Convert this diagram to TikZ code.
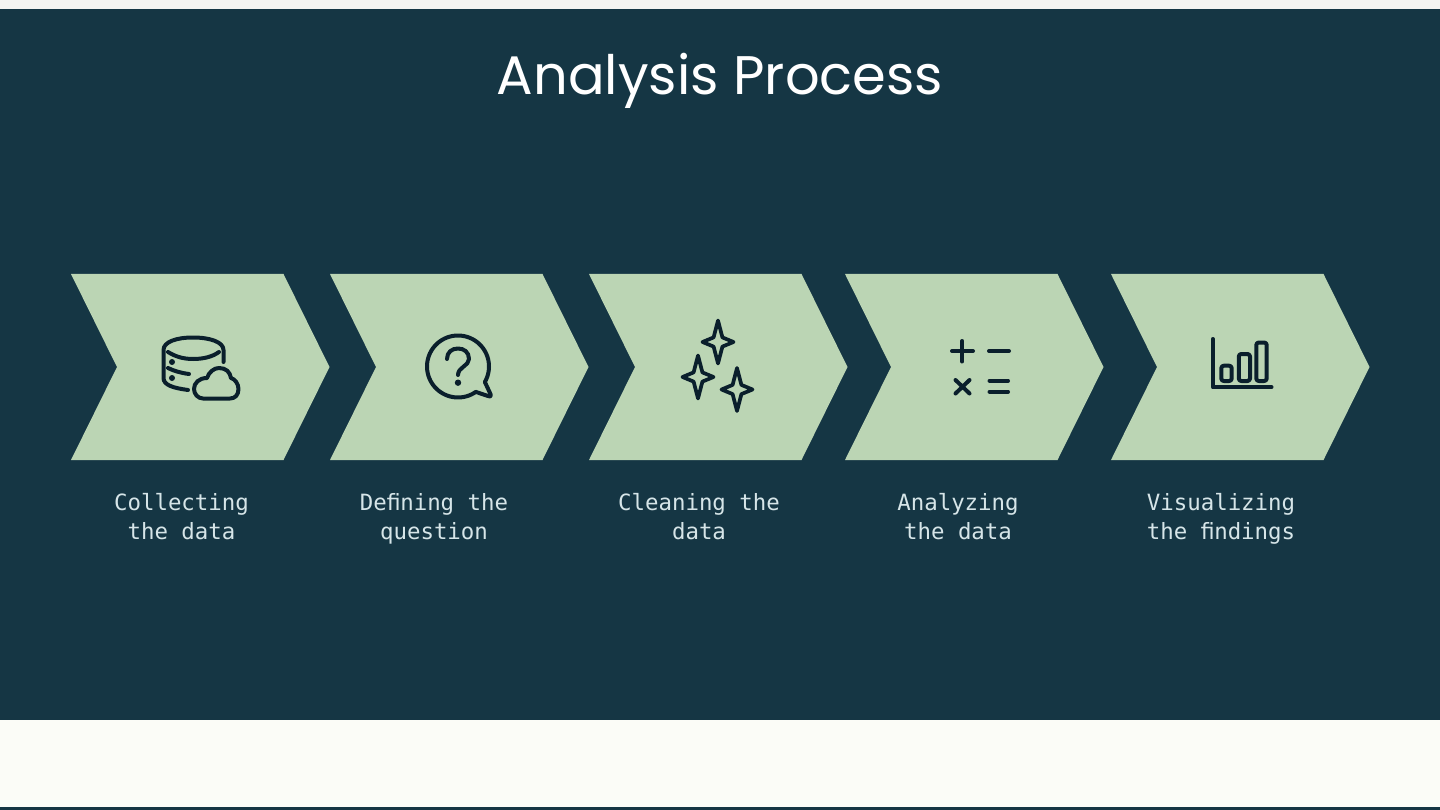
\documentclass[tikz,border=0pt]{standalone}
\usepackage{fontspec}
\setmainfont{Poppins}
\newfontfamily\labelfont{DejaVu Sans Mono}
\definecolor{navy}{HTML}{153644}
\definecolor{cream}{HTML}{FBFCF7}
\definecolor{topstrip}{HTML}{F4F4F2}
\definecolor{leaf}{HTML}{BBD5B4}
\definecolor{ink}{HTML}{0A1F2C}
\definecolor{captioncol}{HTML}{D6E5E8}
\tikzset{
  chevronshape/.style={fill=leaf,draw=none},
  iconline/.style={draw=ink,line width=4pt,line cap=round,line join=round},
  caption/.style={font=\labelfont\fontsize{22.4}{29}\selectfont,text=captioncol,align=center,inner sep=0pt,anchor=center},
  titletext/.style={font=\fontsize{54.3}{66}\selectfont,text=white,inner sep=0pt,anchor=center}
}
\newcommand{\capstrut}{\rule[-7pt]{0pt}{22pt}}
\newcommand{\chevronat}[1]{%
  \fill[chevronshape] (#1,274) -- ++(212.5,0) -- ++(46,93) -- ++(-46,93) -- ++(-212.5,0) -- ++(46,-93) -- cycle;}
\newcommand{\sparkle}[2]{%
  \draw[iconline,line width=3.7pt] (#1,#2-21.5) -- (#1+4.4,#2-4.6) -- (#1+15.5,#2) -- (#1+4.4,#2+4.6) -- (#1,#2+21.5)
    -- (#1-4.4,#2+4.6) -- (#1-15.5,#2) -- (#1-4.4,#2-4.6) -- cycle;}
\begin{document}
\begin{tikzpicture}[x=1pt,y=-1pt]
\useasboundingbox (0,0) rectangle (1440,810);
\fill[topstrip] (0,0) rectangle (1440,9);
\fill[navy] (0,9) rectangle (1440,720);
\fill[cream] (0,720) rectangle (1440,807);
\fill[navy] (0,807) rectangle (1440,810);
\node[titletext] (title) at (720,80.5) {Analysis Process};
\chevronat{71}
\chevronat{330}
\chevronat{589}
\chevronat{845}
\chevronat{1111}
% database + cloud
\draw[iconline] (188,390) .. controls (173,388) and (163.5,385) .. (163.5,378) -- (163.5,350)
  .. controls (163.5,342) and (176,337.5) .. (193,337.5) .. controls (210,337.5) and (223.5,342) .. (223.5,350) -- (223.5,362);
\draw[iconline] (168,352) .. controls (176,357) and (184,359) .. (193,359) .. controls (203,359) and (212,357) .. (219,352);
\draw[iconline] (168,368) .. controls (174,371) and (181,373) .. (189,374);
\fill[ink] (172,362) circle[radius=3pt];
\fill[ink] (172,378) circle[radius=3pt];
\draw[iconline] (203,398.5) .. controls (198,398.5) and (194,394) .. (194,389) .. controls (194,383) and (199,378) .. (207,378)
  .. controls (209,372) and (214,368) .. (219,368) .. controls (226,368) and (230,372) .. (231,378)
  .. controls (235,379) and (238.5,384) .. (238.5,389) .. controls (238.5,395) and (235,398.5) .. (230,398.5) -- cycle;
% speech bubble
\draw[iconline] plot[domain=55:390,samples=70,variable=\t] ({458+31*cos(\t)},{366.5+31*sin(\t)})
  -- (490,393) .. controls (491.5,396) and (491,397) .. (488,396) -- (475.8,391.9);
\draw[iconline] (447,359) .. controls (447,352) and (452,348.5) .. (458,348.5) .. controls (464,348.5) and (469,352) .. (469,359)
  .. controls (469,366) and (458,367) .. (458,375);
\fill[ink] (458,382.7) circle[radius=3.2pt];
% sparkles
\sparkle{718}{342}
\sparkle{698}{377}
\sparkle{737}{389.5}
% math
\draw[iconline] (952,351) -- (973,351);
\draw[iconline] (962.3,341) -- (962.3,361.5);
\draw[iconline] (989,351) -- (1009,351);
\draw[iconline] (955.5,380) -- (969.5,393.5);
\draw[iconline] (969.5,380) -- (955.5,393.5);
\draw[iconline] (989.5,380.7) -- (1008,380.7);
\draw[iconline] (989.5,391.7) -- (1008,391.7);
% chart
\draw[iconline] (1212.8,339) -- (1212.8,387.3) -- (1271.5,387.3);
\draw[iconline,rounded corners=2.5pt] (1221.3,365.7) rectangle (1231.7,381);
\draw[iconline,rounded corners=2.5pt] (1238.8,354) rectangle (1250,381);
\draw[iconline,rounded corners=2.5pt] (1256.3,342.5) rectangle (1266.7,381);
% captions
\node[caption] (c1) at (181.5,519.5) {\capstrut Collecting\\\capstrut the data};
\node[caption] (c2) at (434,519.5) {\capstrut Deﬁning the\\\capstrut question};
\node[caption] (c3) at (699,519.5) {\capstrut Cleaning the\\\capstrut data};
\node[caption] (c4) at (958,519.5) {\capstrut Analyzing\\\capstrut the data};
\node[caption] (c5) at (1221,519.5) {\capstrut Visualizing\\\capstrut the ﬁndings};
\end{tikzpicture}
\end{document}
